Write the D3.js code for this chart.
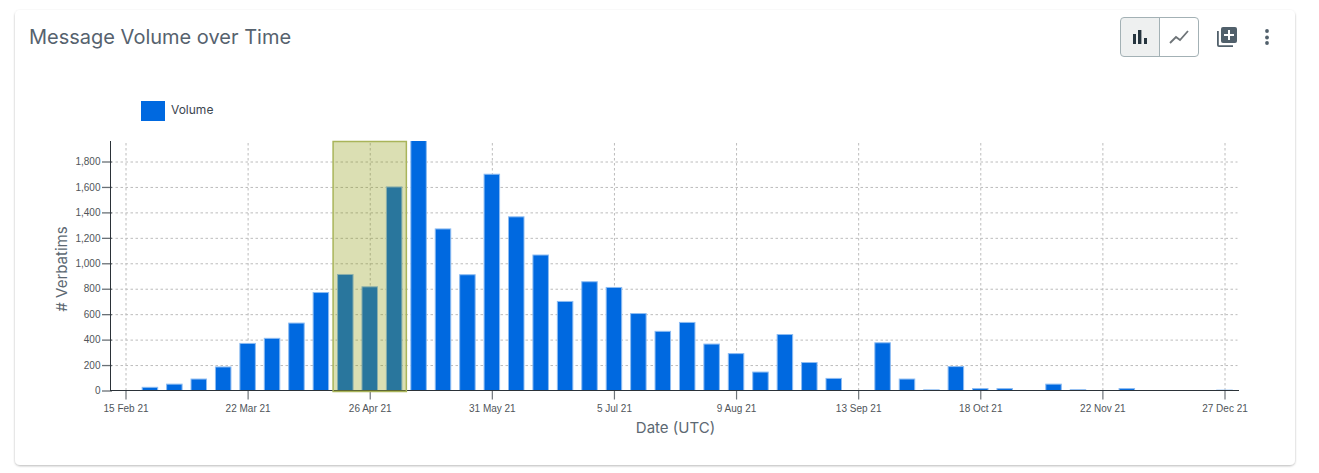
<!DOCTYPE html>
<html><head><meta charset="utf-8">
<script src="https://cdn.jsdelivr.net/npm/d3@7"></script>
<style>
html,body{margin:0;padding:0;background:#fff;overflow:hidden}
svg{display:block}
.tick text{font-family:"Liberation Sans",Arial,sans-serif;font-size:10px;fill:#50555a}
</style></head><body>
<svg id="c" width="1319" height="473"></svg>
<script>
const weekStarts = ["2021-02-15","2021-02-22","2021-03-01","2021-03-08","2021-03-15","2021-03-22","2021-03-29","2021-04-05","2021-04-12","2021-04-19","2021-04-26","2021-05-03","2021-05-10","2021-05-17","2021-05-24","2021-05-31","2021-06-07","2021-06-14","2021-06-21","2021-06-28","2021-07-05","2021-07-12","2021-07-19","2021-07-26","2021-08-02","2021-08-09","2021-08-16","2021-08-23","2021-08-30","2021-09-06","2021-09-13","2021-09-20","2021-09-27","2021-10-04","2021-10-11","2021-10-18","2021-10-25","2021-11-01","2021-11-08","2021-11-15","2021-11-22","2021-11-29","2021-12-06","2021-12-13","2021-12-20","2021-12-27"];
const volume = [0,25,50,90,185,370,410,530,770,912,815,1600,2100,1270,910,1700,1365,1065,700,855,810,605,465,535,365,290,145,440,220,95,0,375,90,5,188,15,15,0,50,6,0,15,0,0,0,3];
const xTickDates = ["2021-02-15","2021-03-22","2021-04-26","2021-05-31","2021-07-05","2021-08-09","2021-09-13","2021-10-18","2021-11-22","2021-12-27"];
const xTickLabels = ["15 Feb 21","22 Mar 21","26 Apr 21","31 May 21","5 Jul 21","9 Aug 21","13 Sep 21","18 Oct 21","22 Nov 21","27 Dec 21"];
const yTicks = [0,200,400,600,800,1000,1200,1400,1600,1800];
const brushRange = ["2021-04-15T12:00Z","2021-05-06T12:00Z"];
const seriesName = "Volume";

const svg = d3.select("#c");
const defs = svg.append("defs");
const sh = defs.append("filter").attr("id","sh").attr("x","-2%").attr("y","-5%").attr("width","104%").attr("height","110%");
sh.append("feDropShadow").attr("dx",0).attr("dy",1).attr("stdDeviation",1.3).attr("flood-color","#000").attr("flood-opacity",.28);
svg.append("rect").attr("x",15).attr("y",10).attr("width",1280).attr("height",455).attr("rx",5).attr("fill","#fff").attr("filter","url(#sh)");

svg.append("text").attr("x",29).attr("y",44).attr("font-family","Inter,Roboto,sans-serif").attr("font-size",20).attr("fill","#56626e").text("Message Volume over Time");

// toolbar
const tb = svg.append("g");
tb.append("path").attr("d","M1159.5 17.5H1124a3 3 0 0 0-3 3v33a3 3 0 0 0 3 3h35.5z").attr("fill","#eef0f0");
tb.append("rect").attr("x",1120.5).attr("y",17.5).attr("width",78).attr("height",39).attr("rx",3.5).attr("fill","none").attr("stroke","#a3b1b5");
tb.append("line").attr("x1",1159.5).attr("x2",1159.5).attr("y1",17.5).attr("y2",56.5).attr("stroke","#a3b1b5");
tb.append("path").attr("d","M1133 34h3v10h-3zM1138 30h3.4v14H1138zM1144 38h3v6h-3z").attr("fill","#26353f");
tb.append("path").attr("d","M1170 43l6-6 4 3 8-9").attr("fill","none").attr("stroke","#6e7478").attr("stroke-width",1.8);
tb.append("path").attr("d","M1217 31v14a2 2 0 0 0 2 2h14v-1.8h-14.2V31z").attr("fill","#51606b");
tb.append("rect").attr("x",1221).attr("y",27).attr("width",16).attr("height",16).attr("rx",2).attr("fill","#51606b");
tb.append("path").attr("d","M1228 30h2v4h4v2h-4v4h-2v-4h-4v-2h4z").attr("fill","#fff");
[31,37.5,43].forEach(y=>tb.append("circle").attr("cx",1267).attr("cy",y).attr("r",1.9).attr("fill","#51606b"));

// legend
svg.append("rect").attr("x",141).attr("y",101).attr("width",24).attr("height",20).attr("fill","#0069e0");
svg.append("text").attr("x",171).attr("y",114).attr("font-family","Inter,Roboto,sans-serif").attr("font-size",12).attr("fill","#3c4650").text(seriesName);

const parse = d => new Date(d.length>10 ? d : d+"T00:00:00Z");
const x = d3.scaleUtc().domain([parse("2021-02-15"),parse("2021-12-27")]).range([125.5,1224.5]);
const y = d3.scaleLinear().domain([0,1800]).range([390.5,161.5]);
const L=110.5,R=1237.5,T=141,B=390.5;

defs.append("clipPath").attr("id","plot").append("rect").attr("x",L).attr("y",T).attr("width",R-L).attr("height",B-T+1);

// grid
const gy = svg.append("g").attr("transform",`translate(${L},0)`)
  .call(d3.axisLeft(y).tickValues(yTicks.slice(1)).tickSize(-(R-L)).tickFormat(""));
const gx = svg.append("g").attr("transform",`translate(0,${B})`)
  .call(d3.axisBottom(x).tickValues(xTickDates.map(parse)).tickSize(-(B-T)).tickFormat(""));
[gy,gx].forEach(g=>{g.select(".domain").remove();g.selectAll("line").attr("stroke","#bcbcbc").attr("stroke-dasharray","2.5,2.5");});

// bars
const bw=15.5;
svg.append("g").attr("clip-path","url(#plot)").selectAll("rect").data(weekStarts.map((d,i)=>({d:parse(d),v:volume[i]})).filter(d=>d.v>0)).join("rect")
  .attr("x",d=>x(d.d)-bw/2).attr("width",bw)
  .attr("y",d=>y(d.v)).attr("height",d=>y(0)-y(d.v))
  .attr("fill","#0069e0").attr("stroke","#8dbcf2").attr("stroke-width",1);

// axes
const ax = svg.append("g").attr("transform",`translate(0,${B})`)
  .call(d3.axisBottom(x).tickValues(xTickDates.map(parse)).tickSize(9).tickPadding(5).tickFormat((d,i)=>xTickLabels[i]));
ax.select(".domain").remove();
ax.selectAll("line").attr("stroke","#6f757a").attr("stroke-width",1.2);
const ay = svg.append("g").attr("transform",`translate(${L},0)`)
  .call(d3.axisLeft(y).tickValues(yTicks).tickSize(8).tickPadding(2).tickFormat(d3.format(",")));
ay.select(".domain").remove();
ay.selectAll("line").attr("stroke","#6a7075").attr("stroke-width",1.3).attr("x2",-8.5).attr("x1",1.5);
svg.append("line").attr("x1",L).attr("x2",L).attr("y1",T).attr("y2",B+.5).attr("stroke","#2b3238").attr("stroke-width",1);
svg.append("line").attr("x1",L).attr("x2",R+1.5).attr("y1",B).attr("y2",B).attr("stroke","#2b3238").attr("stroke-width",1);

// highlight
svg.append("rect").attr("x",x(parse(brushRange[0]))).attr("y",T+.5)
  .attr("width",x(parse(brushRange[1]))-x(parse(brushRange[0]))).attr("height",B-T+.5)
  .attr("fill","rgb(136,150,3)").attr("fill-opacity",.3).attr("stroke","#a9b45a").attr("stroke-width",1.5);

// axis titles
svg.append("text").attr("x",675.5).attr("y",433).attr("text-anchor","middle").attr("font-family","Inter,Roboto,sans-serif").attr("font-size",15).attr("fill","#5c6872").text("Date (UTC)");
svg.append("text").attr("transform","translate(67,269) rotate(-90)").attr("text-anchor","middle").attr("font-family","Inter,Roboto,sans-serif").attr("font-size",15).attr("fill","#5c6872").text("# Verbatims");
</script>
</body></html>
